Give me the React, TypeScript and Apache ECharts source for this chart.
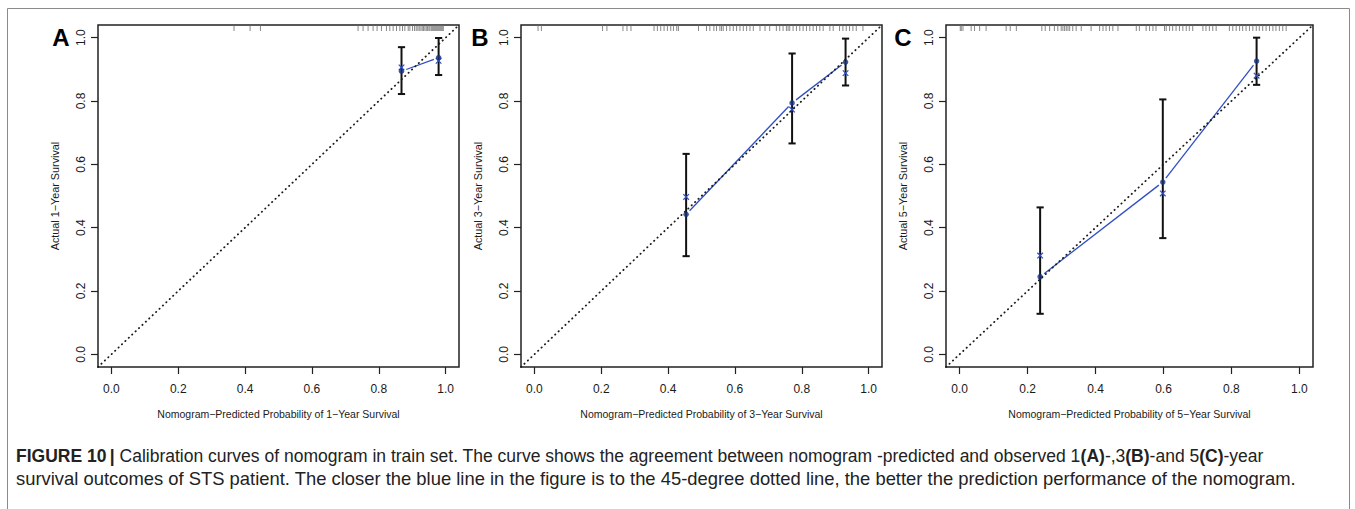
import React, { useEffect, useRef } from 'react';
import * as echarts from 'echarts';

// ---------- data ----------
const panelLetters = ['A', 'B', 'C'];
const xTitles = [
  'Nomogram\u2212Predicted Probability of 1\u2212Year Survival',
  'Nomogram\u2212Predicted Probability of 3\u2212Year Survival',
  'Nomogram\u2212Predicted Probability of 5\u2212Year Survival',
];
const yTitles = [
  'Actual 1\u2212Year Survival',
  'Actual 3\u2212Year Survival',
  'Actual 5\u2212Year Survival',
];
const tickValues = [0, 0.2, 0.4, 0.6, 0.8, 1.0];

// Panel A (1-year)
const predA = [0.868, 0.979];
const obsA = [0.894, 0.937];
const lowA = [0.822, 0.882];
const highA = [0.970, 0.999];
const corrA = [0.906, 0.927];
const rugA = [0.367, 0.415, 0.446, 0.738, 0.753, 0.768, 0.783, 0.795, 0.808, 0.823, 0.833, 0.843, 0.853,
  0.863, 0.871, 0.878, 0.888, 0.893, 0.901, 0.907, 0.912, 0.917, 0.921, 0.926, 0.930, 0.934, 0.938, 0.942,
  0.946, 0.950, 0.953, 0.957, 0.960, 0.963, 0.966, 0.969, 0.972, 0.975, 0.978, 0.981, 0.984, 0.987, 0.990, 0.993];

// Panel B (3-year)
const predB = [0.454, 0.771, 0.931];
const obsB = [0.442, 0.794, 0.923];
const lowB = [0.310, 0.666, 0.849];
const highB = [0.633, 0.950, 0.997];
const corrB = [0.497, 0.773, 0.888];
const rugB = [0.011, 0.021, 0.204, 0.217, 0.265, 0.277, 0.289, 0.358, 0.368, 0.378, 0.388, 0.398, 0.408,
  0.416, 0.426, 0.431, 0.491, 0.515, 0.525, 0.537, 0.545, 0.555, 0.560, 0.565, 0.575, 0.585, 0.595, 0.605,
  0.615, 0.625, 0.635, 0.645, 0.655, 0.675, 0.690, 0.704, 0.724, 0.734, 0.744, 0.754, 0.759, 0.764, 0.774,
  0.784, 0.794, 0.804, 0.814, 0.824, 0.834, 0.844, 0.854, 0.864, 0.884, 0.894, 0.913, 0.923, 0.933, 0.943,
  0.953, 0.963, 0.983];

// Panel C (5-year)
const predC = [0.237, 0.598, 0.874];
const obsC = [0.245, 0.544, 0.926];
const lowC = [0.128, 0.367, 0.851];
const highC = [0.464, 0.805, 1.0];
const corrC = [0.312, 0.508, 0.880];
const rugC = [0.002, 0.005, 0.010, 0.034, 0.044, 0.059, 0.078, 0.137, 0.149, 0.167, 0.242, 0.252, 0.265,
  0.279, 0.289, 0.299, 0.304, 0.309, 0.314, 0.319, 0.324, 0.333, 0.343, 0.358, 0.387, 0.412, 0.422, 0.431,
  0.441, 0.451, 0.466, 0.520, 0.529, 0.549, 0.559, 0.569, 0.578, 0.603, 0.608, 0.618, 0.627, 0.637, 0.647,
  0.657, 0.667, 0.676, 0.686, 0.716, 0.725, 0.735, 0.745, 0.755, 0.794, 0.804, 0.814, 0.824, 0.833, 0.843,
  0.853, 0.863, 0.873, 0.882, 0.892, 0.902, 0.912, 0.922, 0.931, 0.941, 0.951, 0.961];

const AXIS_MIN = -0.04;
const AXIS_MAX = 1.04;

const panels = [
  { pred: predA, obs: obsA, low: lowA, high: highA, corr: corrA, rug: rugA },
  { pred: predB, obs: obsB, low: lowB, high: highB, corr: corrB, rug: rugB },
  { pred: predC, obs: obsC, low: lowC, high: highC, corr: corrC, rug: rugC },
];

// ---------- layout / style ----------
const grids = [
  { left: 98, top: 25, width: 361, height: 342 },
  { left: 521, top: 25, width: 361, height: 342 },
  { left: 946, top: 25, width: 367, height: 342 },
];
const letterPos = [61, 480, 903];
const FONT = '"Liberation Sans", Arial, Helvetica, sans-serif';
const TEXT = '#1a1a1a';
const BLUE = '#2f4fc4';
const DOT = '#17327e';

export default function App() {
  const ref = useRef<HTMLDivElement>(null);

  useEffect(() => {
    if (!ref.current) return;
    const chart = echarts.init(ref.current, null, { renderer: 'svg' });

    const xAxes: any[] = [];
    const yAxes: any[] = [];
    const series: any[] = [];

    panels.forEach((p, i) => {
      xAxes.push({
        gridIndex: i,
        type: 'value',
        min: AXIS_MIN,
        max: AXIS_MAX,
        axisLine: { show: false, onZero: false },
        splitLine: { show: false },
        axisTick: { show: true, length: 7, customValues: tickValues, lineStyle: { color: '#222', width: 1.2 } },
        axisLabel: {
          customValues: tickValues,
          formatter: (v: number) => v.toFixed(1),
          fontSize: 12,
          fontFamily: FONT,
          color: TEXT,
          margin: 16,
        },
        name: xTitles[i],
        nameLocation: 'middle',
        nameGap: 41,
        nameTextStyle: { fontSize: 10.5, fontFamily: FONT, color: TEXT },
      });
      yAxes.push({
        gridIndex: i,
        type: 'value',
        min: AXIS_MIN,
        max: AXIS_MAX,
        axisLine: { show: false, onZero: false },
        splitLine: { show: false },
        axisTick: { show: true, length: 7, customValues: tickValues, lineStyle: { color: '#222', width: 1.2 } },
        axisLabel: {
          customValues: tickValues,
          formatter: (v: number) => v.toFixed(1),
          fontSize: 12,
          fontFamily: FONT,
          color: TEXT,
          rotate: 90,
          margin: 11,
        },
        name: yTitles[i],
        nameLocation: 'middle',
        nameRotate: 90,
        nameGap: 38,
        nameTextStyle: { fontSize: 10.8, fontFamily: FONT, color: TEXT },
      });

      // rug of predicted probabilities at top
      series.push({
        type: 'custom',
        xAxisIndex: i,
        yAxisIndex: i,
        silent: true,
        data: p.rug.map((v) => [v, AXIS_MAX]),
        encode: { x: 0, y: 1 },
        renderItem: (params: any, api: any) => {
          const pt = api.coord([api.value(0), api.value(1)]);
          return {
            type: 'line',
            shape: { x1: pt[0], y1: pt[1] + 0.5, x2: pt[0], y2: pt[1] + 6 },
            style: { stroke: '#7a7a7a', lineWidth: 0.9 },
          };
        },
      });

      // 45-degree dotted reference line
      series.push({
        type: 'line',
        xAxisIndex: i,
        yAxisIndex: i,
        data: [[AXIS_MIN, AXIS_MIN], [AXIS_MAX, AXIS_MAX]],
        symbol: 'none',
        silent: true,
        lineStyle: { color: '#1a1a1a', width: 1.8, type: [0.3, 4.4], cap: 'round' },
      });

      // blue calibration line with gaps near the points (R type = "b")
      const segs = p.pred.slice(0, -1).map((x, k) => [x, p.obs[k], p.pred[k + 1], p.obs[k + 1]]);
      series.push({
        type: 'custom',
        xAxisIndex: i,
        yAxisIndex: i,
        silent: true,
        data: segs,
        encode: { x: [0, 2], y: [1, 3] },
        renderItem: (params: any, api: any) => {
          const a = api.coord([api.value(0), api.value(1)]);
          const b = api.coord([api.value(2), api.value(3)]);
          const dx = b[0] - a[0];
          const dy = b[1] - a[1];
          const len = Math.sqrt(dx * dx + dy * dy);
          const g = 5;
          const ux = dx / len;
          const uy = dy / len;
          return {
            type: 'line',
            shape: { x1: a[0] + ux * g, y1: a[1] + uy * g, x2: b[0] - ux * g, y2: b[1] - uy * g },
            style: { stroke: BLUE, lineWidth: 1.3 },
          };
        },
      });

      // error bars
      series.push({
        type: 'custom',
        xAxisIndex: i,
        yAxisIndex: i,
        silent: true,
        data: p.pred.map((x, k) => [x, p.low[k], p.high[k]]),
        encode: { x: 0, y: [1, 2] },
        renderItem: (params: any, api: any) => {
          const lo = api.coord([api.value(0), api.value(1)]);
          const hi = api.coord([api.value(0), api.value(2)]);
          const w = 3.6;
          const st = { stroke: '#111', lineWidth: 2 };
          return {
            type: 'group',
            children: [
              { type: 'line', shape: { x1: lo[0], y1: lo[1], x2: hi[0], y2: hi[1] }, style: st },
              { type: 'line', shape: { x1: lo[0] - w, y1: lo[1], x2: lo[0] + w, y2: lo[1] }, style: st },
              { type: 'line', shape: { x1: hi[0] - w, y1: hi[1], x2: hi[0] + w, y2: hi[1] }, style: st },
            ],
          };
        },
      });

      // bias-corrected estimates (blue x)
      series.push({
        type: 'custom',
        xAxisIndex: i,
        yAxisIndex: i,
        silent: true,
        data: p.pred.map((x, k) => [x, p.corr[k]]),
        encode: { x: 0, y: 1 },
        renderItem: (params: any, api: any) => {
          const c = api.coord([api.value(0), api.value(1)]);
          const s = 2.8;
          const st = { stroke: BLUE, lineWidth: 1.2 };
          return {
            type: 'group',
            children: [
              { type: 'line', shape: { x1: c[0] - s, y1: c[1] - s, x2: c[0] + s, y2: c[1] + s }, style: st },
              { type: 'line', shape: { x1: c[0] - s, y1: c[1] + s, x2: c[0] + s, y2: c[1] - s }, style: st },
            ],
          };
        },
      });

      // observed points
      series.push({
        type: 'scatter',
        xAxisIndex: i,
        yAxisIndex: i,
        silent: true,
        data: p.pred.map((x, k) => [x, p.obs[k]]),
        symbol: 'circle',
        symbolSize: 5.5,
        itemStyle: { color: DOT },
      });
    });

    const graphic: any[] = [
      {
        type: 'rect',
        shape: { x: 7.5, y: 8.5, width: 1342, height: 540 },
        style: { fill: 'none', stroke: '#8a8a8a', lineWidth: 1 },
        silent: true,
      },
      ...panelLetters.map((t, i) => ({
        type: 'text',
        x: letterPos[i],
        y: 37,
        style: {
          text: t,
          fontSize: 24,
          fontWeight: 'bold',
          fontFamily: FONT,
          fill: '#000',
          align: 'center',
          verticalAlign: 'middle',
        },
        silent: true,
      })),
      {
        type: 'text',
        x: 16,
        y: 456,
        style: {
          text: '{b|FIGURE 10} {bar|| }{n|Calibration curves of nomogram in train set. The curve shows the agreement between nomogram -predicted and observed 1}{b|(A)}{n|-,3}{b|(B)}{n|-and 5}{b|(C)}{n|-year}',
          verticalAlign: 'middle',
          align: 'left',
          rich: {
            b: { fontSize: 17.5, fontWeight: 'bold', fontFamily: FONT, fill: '#222' },
            bar: { fontSize: 17.5, fontWeight: 'bold', fontFamily: FONT, fill: '#222' },
            n: { fontSize: 17.5, fontFamily: FONT, fill: '#222' },
          },
        },
        silent: true,
      },
      {
        type: 'text',
        x: 16,
        y: 478,
        style: {
          text: 'survival outcomes of STS patient. The closer the blue line in the figure is to the 45-degree dotted line, the better the prediction performance of the nomogram.',
          fontSize: 18.4,
          fontFamily: FONT,
          fill: '#222',
          verticalAlign: 'middle',
          align: 'left',
        },
        silent: true,
      },
    ];

    chart.setOption({
      animation: false,
      backgroundColor: '#fff',
      grid: grids.map((g) => ({
        ...g,
        show: true,
        borderColor: '#222',
        borderWidth: 1.5,
        backgroundColor: 'transparent',
        containLabel: false,
        outerBoundsMode: 'none',
      })),
      xAxis: xAxes,
      yAxis: yAxes,
      series,
      graphic,
    });

    return () => chart.dispose();
  }, []);

  return (
    <div
      ref={ref}
      style={{ position: 'absolute', left: 0, top: 0, width: 1355, height: 509, background: '#fff' }}
    />
  );
}
